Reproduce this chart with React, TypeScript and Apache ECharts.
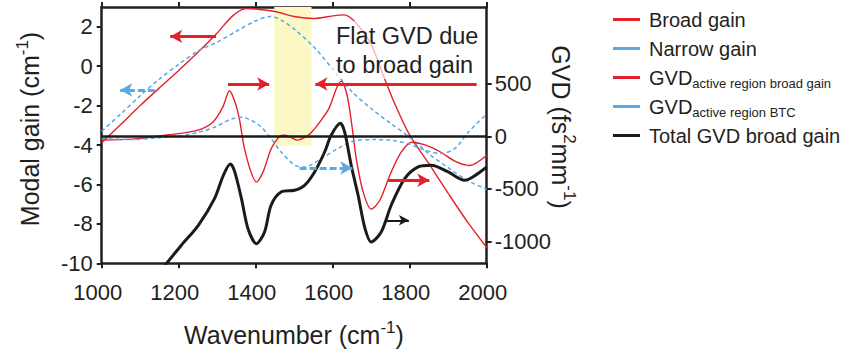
import React, { useEffect, useRef } from "react";
import * as echarts from "echarts";

const FONT = "Liberation Sans, Arial, sans-serif";
const RED = "#e6202b";
const BLUE = "#5aa9e2";
const BLACK = "#1d1a1a";
const AXIS = "#231f20";

const xTicks = [1000, 1200, 1400, 1600, 1800, 2000];
const gainTicks = [-10, -8, -6, -4, -2, 0, 2];
const gvdTicks = [-1000, -500, 0, 500];

// Broad gain (modal gain, cm-1, left axis)
const broadGainWn = [1000, 1050, 1100, 1150, 1200, 1250, 1300, 1340, 1375, 1400, 1450, 1500, 1550, 1600, 1630, 1660, 1700, 1730, 1760, 1800, 1850, 1900, 1950, 2000];
const broadGain = [-3.88, -2.95, -2.0, -1.1, -0.22, 0.7, 1.68, 2.55, 2.92, 2.9, 2.77, 2.52, 2.42, 2.55, 2.6, 2.2, 1.1, -0.4, -1.85, -3.5, -4.95, -6.45, -7.9, -9.2];

// Narrow gain (modal gain, cm-1, left axis)
const narrowGainWn = [1000, 1050, 1100, 1150, 1200, 1250, 1300, 1350, 1400, 1440, 1470, 1500, 1550, 1600, 1650, 1700, 1750, 1800, 1850, 1900, 1950, 2000];
const narrowGain = [-3.3, -2.42, -1.5, -0.65, 0.09, 0.77, 1.22, 1.77, 2.3, 2.52, 2.3, 1.88, 1.0, -0.15, -1.3, -2.15, -2.9, -3.6, -4.45, -5.15, -5.8, -6.25];

// GVD active region broad gain (fs2/mm, right axis)
const gvdBroadWn = [1000, 1080, 1170, 1250, 1290, 1315, 1332, 1345, 1357, 1370, 1387, 1402, 1420, 1440, 1462, 1478, 1508, 1532, 1545, 1565, 1590, 1610, 1622, 1637, 1650, 1662, 1680, 1700, 1722, 1750, 1778, 1805, 1840, 1880, 1920, 1955, 2000];
const gvdBroad = [-33, -25, 14, 60, 141, 284, 435, 340, 180, -100, -330, -435, -330, -120, 0, 12, -35, 0, 40, 130, 265, 460, 527, 400, 100, -230, -540, -692, -610, -355, -150, -55, -80, -148, -240, -276, -179];

// GVD active region BTC (fs2/mm, right axis)
const gvdBtcWn = [1000, 1080, 1150, 1207, 1251, 1293, 1337, 1365, 1390, 1415, 1440, 1466, 1501, 1527, 1570, 1613, 1660, 1710, 1752, 1795, 1839, 1882, 1917, 1952, 2000];
const gvdBtc = [-17, -30, -12, 8, 40, 88, 167, 183, 150, 88, -20, -148, -272, -292, -211, -116, -38, -30, -36, -68, -130, -163, -116, 40, 214];

// Total GVD broad gain (fs2/mm, right axis)
const totalWn = [1160, 1207, 1251, 1293, 1316, 1334, 1345, 1363, 1380, 1402, 1423, 1440, 1466, 1501, 1527, 1553, 1579, 1596, 1620, 1631, 1648, 1666, 1684, 1700, 1726, 1752, 1787, 1822, 1856, 1900, 1943, 1977, 2000];
const totalGvd = [-1246, -1036, -846, -592, -370, -262, -330, -592, -878, -1021, -910, -655, -529, -512, -465, -338, -148, 11, 125, 43, -274, -560, -878, -1005, -910, -655, -402, -290, -274, -338, -417, -354, -290];

const zip = (xs: number[], ys: number[]) => xs.map((x, i) => [x, ys[i]]);

const LEGEND_NAMES = [
  "Broad gain",
  "Narrow gain",
  "GVD active region broad gain",
  "GVD active region BTC",
  "Total GVD broad gain",
];

const arrow = (x1: number, y1: number, x2: number, y2: number) => [
  { coord: [x1, y1] },
  { coord: [x2, y2] },
];

export default function App() {
  const ref = useRef<HTMLDivElement>(null);
  useEffect(() => {
    if (!ref.current) return;
    const chart = echarts.init(ref.current, undefined, { renderer: "svg" });
    const axisLineStyle = { color: AXIS, width: 2.5 };
    const tickStyle = { color: AXIS, width: 2 };
    const labelStyle = {
      fontSize: 22,
      color: AXIS,
      fontFamily: FONT,
      formatter: (v: number) => String(v),
    };
    const option: any = {
      animation: false,
      backgroundColor: "#ffffff",
      grid: { left: 101.7, right: 370.3, top: 7, bottom: 89.7, containLabel: false },
      xAxis: [
        {
          type: "value",
          position: "bottom",
          min: 1000,
          max: 2000,
          interval: 200,
          axisLine: { show: true, onZero: false, lineStyle: axisLineStyle },
          axisTick: { show: true, length: 5, lineStyle: tickStyle },
          axisLabel: { ...labelStyle, margin: 18, padding: [0, 8, 0, 0], customValues: xTicks },
          splitLine: { show: false },
        },
        {
          type: "value",
          position: "top",
          min: 1000,
          max: 2000,
          interval: 200,
          axisLine: { show: true, onZero: false, lineStyle: axisLineStyle },
          axisTick: { show: true, length: 5, lineStyle: tickStyle },
          axisLabel: { show: false },
          splitLine: { show: false },
        },
      ],
      yAxis: [
        {
          type: "value",
          position: "left",
          min: -10,
          max: 3,
          axisLine: { show: true, onZero: false, lineStyle: axisLineStyle },
          axisTick: { show: true, length: 5, lineStyle: tickStyle, customValues: gainTicks },
          axisLabel: { ...labelStyle, margin: 9, customValues: gainTicks },
          splitLine: { show: false },
        },
        {
          type: "value",
          position: "right",
          min: -1208,
          max: 1233,
          axisLine: { show: true, onZero: false, lineStyle: axisLineStyle },
          axisTick: { show: true, length: 5, lineStyle: tickStyle, customValues: gvdTicks },
          axisLabel: { ...labelStyle, margin: 8, customValues: gvdTicks },
          splitLine: { show: false },
        },
      ],
      legend: {
        orient: "vertical",
        left: 613,
        top: 6,
        padding: 0,
        itemGap: 2,
        itemWidth: 27,
        itemHeight: 3,
        icon: "rect",
        data: LEGEND_NAMES,
        formatter: (name: string) => {
          if (name === "GVD active region broad gain") return "GVD{sub|active region broad gain}";
          if (name === "GVD active region BTC") return "GVD{sub|active region BTC}";
          return name;
        },
        textStyle: {
          fontSize: 20,
          fontFamily: FONT,
          color: AXIS,
          lineHeight: 27,
          padding: [0, 0, 0, 4],
          rich: {
            sub: { fontSize: 13, fontFamily: FONT, color: AXIS, lineHeight: 15, padding: [12, 0, 0, 0] },
          },
        },
      },
      series: [
        {
          name: "Broad gain",
          type: "line",
          yAxisIndex: 0,
          data: zip(broadGainWn, broadGain),
          smooth: 0.3,
          showSymbol: false,
          symbol: "none",
          itemStyle: { color: RED },
          lineStyle: { color: RED, width: 1.4 },
          markLine: {
            silent: true,
            symbol: ["none", "arrow"],
            symbolSize: [10, 12],
            label: { show: false },
            lineStyle: { color: RED, width: 3, type: "solid" },
            data: [arrow(1297, 1.51, 1178, 1.51)],
          },
        },
        {
          name: "Narrow gain",
          type: "line",
          yAxisIndex: 0,
          data: zip(narrowGainWn, narrowGain),
          smooth: 0.3,
          showSymbol: false,
          symbol: "none",
          itemStyle: { color: BLUE },
          lineStyle: { color: BLUE, width: 1.5, type: [4, 3] },
          markLine: {
            silent: true,
            symbol: ["none", "arrow"],
            symbolSize: [10, 12],
            label: { show: false },
            lineStyle: { color: BLUE, width: 3, type: [7, 3] },
            data: [arrow(1138, -1.21, 1048, -1.21)],
          },
        },
        {
          name: "GVD active region broad gain",
          type: "line",
          yAxisIndex: 1,
          data: zip(gvdBroadWn, gvdBroad),
          smooth: 0.3,
          showSymbol: false,
          symbol: "none",
          itemStyle: { color: RED },
          lineStyle: { color: RED, width: 1.4 },
          markLine: {
            silent: true,
            symbol: ["none", "arrow"],
            symbolSize: [10, 12],
            label: { show: false },
            lineStyle: { color: RED, width: 3, type: "solid" },
            data: [
              arrow(1328, 500, 1435, 500),
              arrow(1974, 500, 1555, 500),
              arrow(1744, -417, 1851, -417),
            ],
          },
        },
        {
          name: "GVD active region BTC",
          type: "line",
          yAxisIndex: 1,
          data: zip(gvdBtcWn, gvdBtc),
          smooth: 0.3,
          showSymbol: false,
          symbol: "none",
          itemStyle: { color: BLUE },
          lineStyle: { color: BLUE, width: 1.5, type: [4, 3] },
          markArea: {
            silent: true,
            itemStyle: { color: "#fbf8c5" },
            data: [[{ xAxis: 1448, yAxis: -88 }, { xAxis: 1545, yAxis: 1233 }]],
          },
          markLine: {
            silent: true,
            symbol: ["none", "arrow"],
            symbolSize: [10, 12],
            label: { show: false },
            lineStyle: { color: BLUE, width: 3, type: [7, 3] },
            data: [arrow(1514, -300, 1651, -300)],
          },
        },
        {
          name: "Total GVD broad gain",
          type: "line",
          yAxisIndex: 1,
          data: zip(totalWn, totalGvd),
          smooth: 0.3,
          showSymbol: false,
          symbol: "none",
          itemStyle: { color: BLACK },
          lineStyle: { color: BLACK, width: 3 },
          markLine: {
            silent: true,
            symbol: ["none", "none"],
            label: { show: false },
            data: [
              { yAxis: 0, lineStyle: { color: BLACK, width: 2.5, type: "solid" } },
              [
                { coord: [1739, -798], symbol: "none", lineStyle: { color: BLACK, width: 2, type: "solid" } },
                { coord: [1798, -798], symbol: "arrow", symbolSize: [8, 10] },
              ],
            ],
          },
        },
      ],
      graphic: [
        {
          type: "rect",
          z: 10,
          shape: { x: 331, y: 21, width: 152, height: 58 },
          style: { fill: "rgba(255,255,255,0.65)" },
          silent: true,
        },
        {
          type: "text",
          z: 11,
          x: 336,
          y: 21,
          style: {
            text: "Flat GVD due\nto broad gain",
            fontSize: 23.5,
            fontFamily: FONT,
            lineHeight: 29.5,
            fill: AXIS,
            align: "left",
            verticalAlign: "top",
          },
        },
        {
          type: "text",
          x: 294,
          y: 335,
          style: {
            text: "Wavenumber (cm{sup|-1})",
            fontSize: 25,
            fontFamily: FONT,
            fill: AXIS,
            align: "center",
            verticalAlign: "middle",
            rich: { sup: { fontSize: 17, fontFamily: FONT, fill: AXIS, padding: [0, 0, 16, 0] } },
          },
        },
        {
          type: "text",
          x: 30,
          y: 129,
          rotation: Math.PI / 2,
          style: {
            text: "Modal gain (cm{sup|-1})",
            fontSize: 25,
            fontFamily: FONT,
            fill: AXIS,
            align: "center",
            verticalAlign: "middle",
            rich: { sup: { fontSize: 17, fontFamily: FONT, fill: AXIS, padding: [0, 0, 16, 0] } },
          },
        },
        {
          type: "text",
          x: 561,
          y: 127,
          rotation: -Math.PI / 2,
          style: {
            text: "GVD (fs{sup|2}mm{sup|-1})",
            fontSize: 25,
            fontFamily: FONT,
            fill: AXIS,
            align: "center",
            verticalAlign: "middle",
            rich: { sup: { fontSize: 17, fontFamily: FONT, fill: AXIS, padding: [0, 0, 16, 0] } },
          },
        },
      ],
    };
    chart.setOption(option);
    return () => chart.dispose();
  }, []);
  return (
    <div
      ref={ref}
      style={{ position: "fixed", left: 0, top: 0, width: 857, height: 353, background: "#fff" }}
    />
  );
}
